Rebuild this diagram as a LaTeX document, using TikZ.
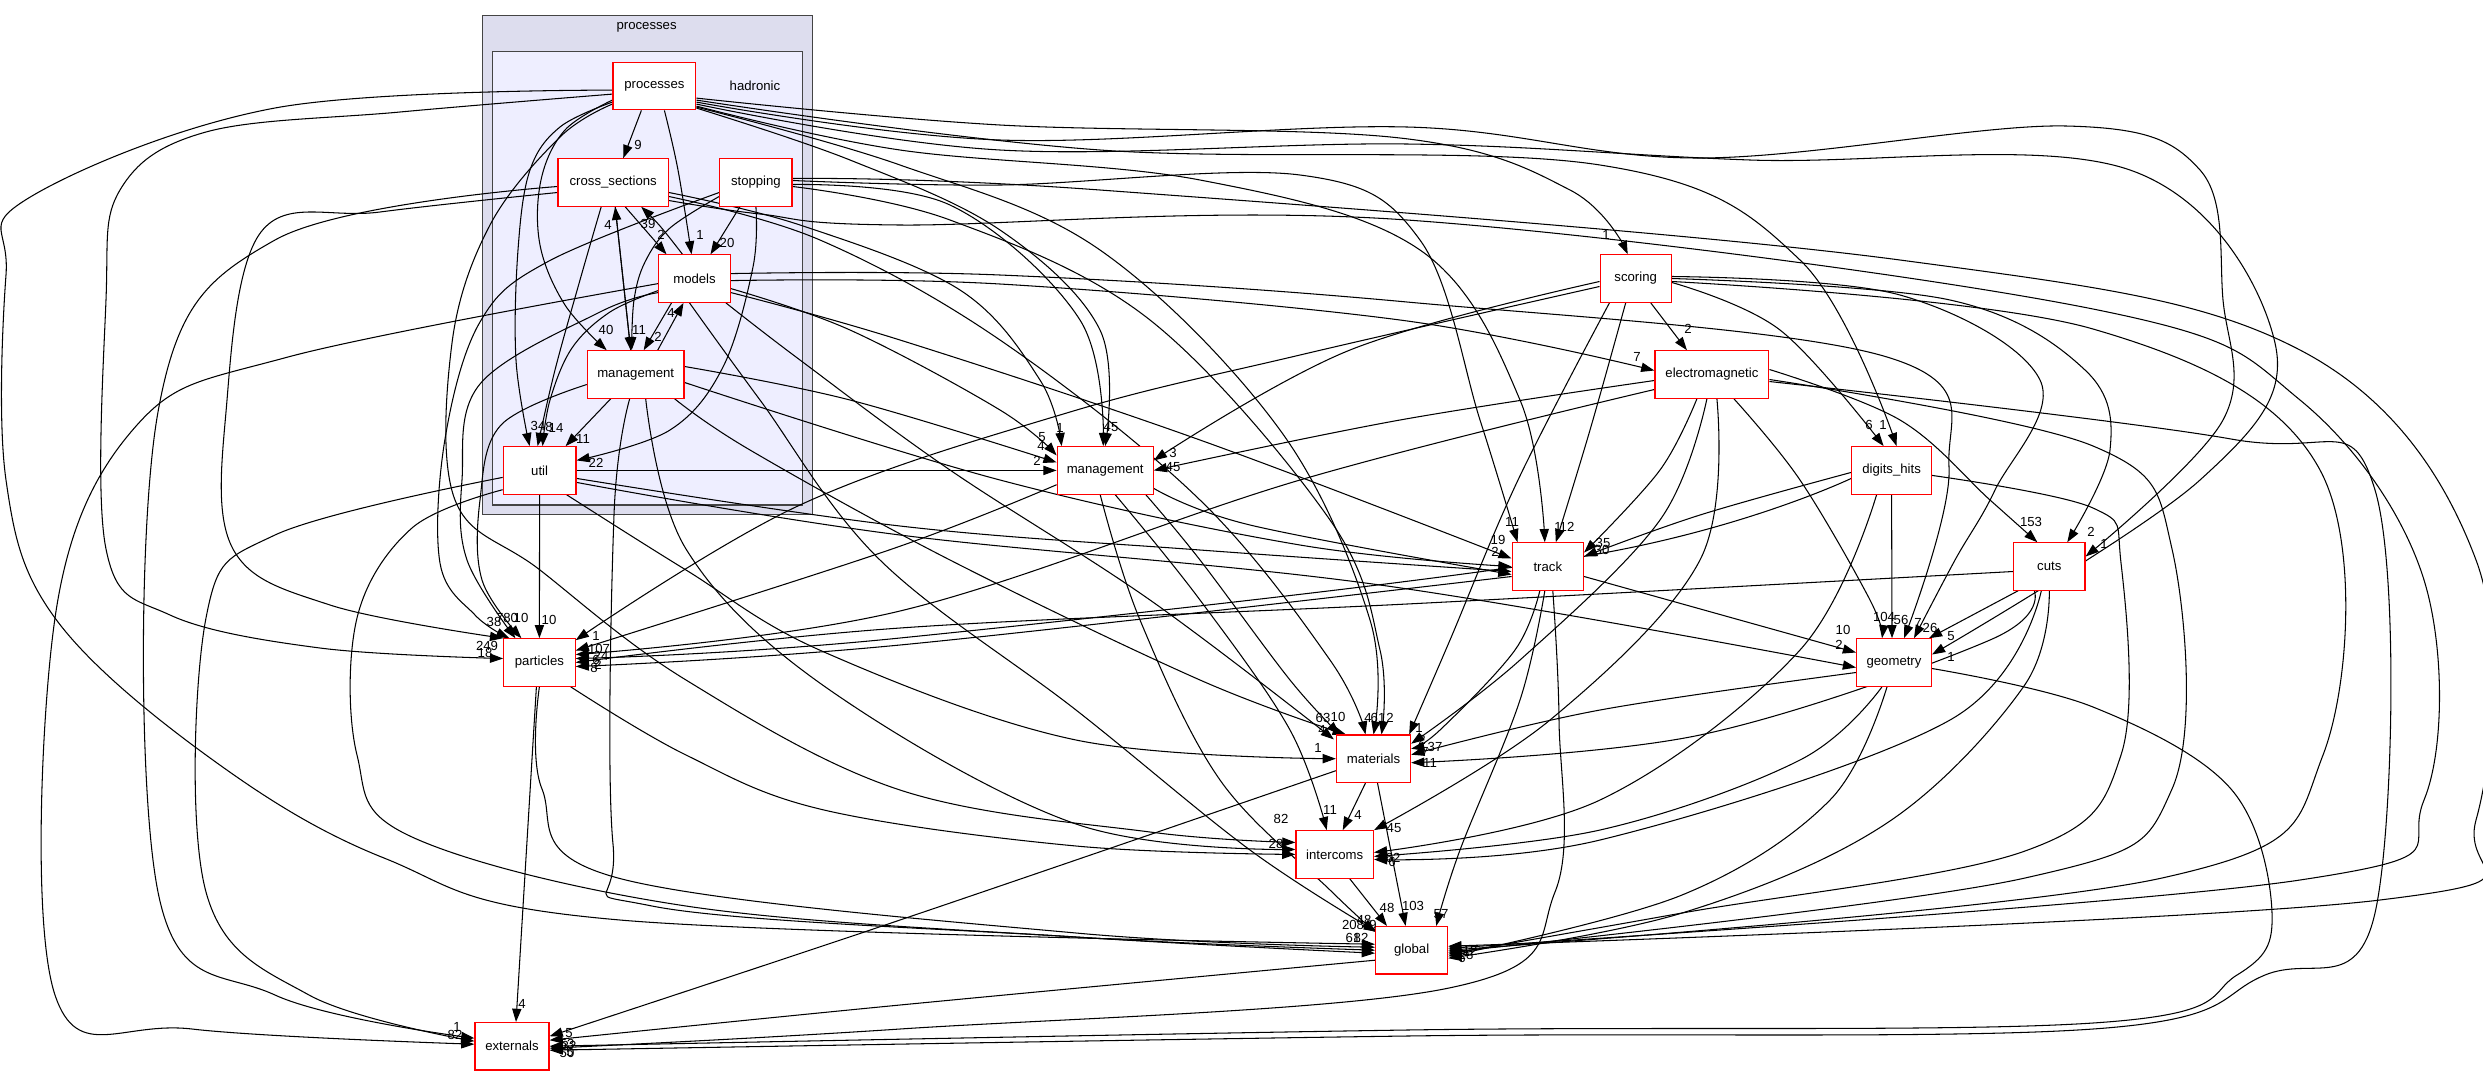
\documentclass[tikz,border=0pt]{standalone}
\usepackage{fontspec}
\setmainfont{Liberation Sans}
\usetikzlibrary{arrows.meta,calc}
\pgfdeclarelayer{bg}
\pgfdeclarelayer{edges}
\pgfsetlayers{bg,edges,main}
\definecolor{clouter}{HTML}{DDDDEE}
\definecolor{clinner}{HTML}{EEEEFF}
\definecolor{clborder}{HTML}{444444}
\newcounter{labc}
\newcommand\lab[3]{\stepcounter{labc}\node[lb] (L\arabic{labc}) at (#1,#2) {#3};}
\newcommand\edgeplot[1]{\draw[edge] plot[smooth,tension=0.6] coordinates {#1};}
\begin{document}
\begin{tikzpicture}[x=0.7593pt,y=-0.7593pt,
  box/.style={draw=red, fill=white, line width=0.9pt, minimum height=36pt, inner sep=0pt, font=\fontsize{10}{12}\selectfont},
  lb/.style={inner sep=0pt, font=\fontsize{10}{12}\selectfont},
  edge/.style={draw=black, line width=0.8pt, -{Triangle[length=10pt,width=7pt]}}]
\useasboundingbox (0,0) rectangle (2483,1076);
\begin{pgfonlayer}{bg}
\fill[white] (0,0) rectangle (2483,1076);
\draw[clborder, fill=clouter, line width=1pt] (482.5,15.8) rectangle (812.5,514.5);
\draw[clborder, fill=clinner, line width=1pt] (492.7,51.5) rectangle (802.8,505);
\end{pgfonlayer}
\node[lb] (clp) at (646.6,27.5) {processes};
\node[lb] (clh) at (755,85.5) {hadronic};
% nodes
\node[box, minimum width=63pt] (P) at (654.4,86.1) {processes};
\node[box, minimum width=83.7pt] (CS) at (613.2,182.5) {cross\_sections};
\node[box, minimum width=54.9pt] (ST) at (755.9,182.5) {stopping};
\node[box, minimum width=54.4pt] (MO) at (694.5,278.6) {models};
\node[box, minimum width=73.4pt] (HM) at (635.7,374.5) {management};
\node[box, minimum width=55.2pt] (UT) at (539.6,470.4) {util};
\node[box, minimum width=54.2pt] (PA) at (539.4,662.5) {particles};
\node[box, minimum width=56.2pt] (EX) at (512,1046.2) {externals};
\node[box, minimum width=72.9pt] (OM) at (1105.2,470.4) {management};
\node[box, minimum width=54.1pt] (SC) at (1635.7,278.5) {scoring};
\node[box, minimum width=86.5pt] (EM) at (1711.9,374.5) {electromagnetic};
\node[box, minimum width=60.4pt] (DH) at (1891.6,470.4) {digits\_hits};
\node[box, minimum width=54.2pt] (TR) at (1547.8,566.5) {track};
\node[box, minimum width=56.8pt] (GE) at (1894,662.5) {geometry};
\node[box, minimum width=54.2pt] (CU) at (2049.3,566.5) {cuts};
\node[box, minimum width=56.3pt] (MA) at (1373.5,758.7) {materials};
\node[box, minimum width=58.8pt] (IC) at (1334.7,854.4) {intercoms};
\node[box, minimum width=54.7pt] (GL) at (1411.6,950.2) {global};
\begin{pgfonlayer}{edges}
% internal hadronic
\draw[edge] ($(P.south)+(-13,0)$) -- ($(CS.north)+(10,0)$);
\edgeplot{($(P.south)+(10,0)$) (678,170) ($(MO.north)+(-3,0)$)}
\edgeplot{($(P.west)+(0,14)$) (565,130) (541,180) (540,245) (565,305) ($(HM.north)+(-29,0)$)}
\edgeplot{($(P.west)+(0,16)$) (560,127) (530,170) (518,250) (516,360) ($(UT.north)+(-10,0)$)}
\edgeplot{($(CS.south)+(-12,0)$) (580,280) (555,370) ($(UT.north)+(-2,0)$)}
\edgeplot{($(MO.west)+(0,12)$) (610,312) (572,348) (550,400) ($(UT.north)+(3,0)$)}
\draw[edge] ($(HM.south)+(-25,0)$) -- ($(UT.north)+(26,0)$);
\edgeplot{(ST.south) (753,267) (723,367) (670,430) ($(UT.east)+(0,-10)$)}
\draw[edge] ($(CS.south)+(12,0)$) -- ($(MO.north)+(-28,0)$);
\edgeplot{($(MO.north)+(-12,0)$) (660,226) ($(CS.south)+(28,0)$)}
\draw[edge] ($(CS.south)+(2,0)$) -- ($(HM.north)+(-5,0)$);
\draw[edge] ($(HM.north)+(-5,0)$) -- ($(CS.south)+(2,0)$);
\draw[edge] ($(ST.south)+(-16,0)$) -- ($(MO.north)+(16,0)$);
\edgeplot{($(ST.west)+(0,14)$) (670,228) (645,262) (634,300) ($(HM.north)+(-4,0)$)}
\draw[edge] ($(MO.south)+(-23,0)$) -- ($(HM.north)+(8,0)$);
\draw[edge] ($(HM.north)+(22,0)$) -- ($(MO.south)+(-11,0)$);
% into particles
\edgeplot{($(P.west)+(0,8)$) (400,112) (206,132) (120,190) (106,300) (106,549) (170,615) (320,648) ($(PA.west)+(0,-4)$)}
\edgeplot{($(CS.west)+(0,10)$) (380,212) (261,232) (226,412) (233,549) (330,605) (PA.north west)}
\edgeplot{($(ST.west)+(0,10)$) (549,261) (480,322) (445,439) (440,563) (475,615) ($(PA.north)+(-30,0)$)}
\edgeplot{($(MO.west)+(0,14)$) (600,312) (480,384) (462,480) (467,560) ($(PA.north)+(-24,0)$)}
\edgeplot{($(HM.west)+(0,10)$) (501,425) (480,500) (482,580) ($(PA.north)+(-18,0)$)}
\draw[edge] (UT.south) -- (PA.north);
\edgeplot{($(SC.west)+(0,8)$) (1300,355) (1070,412) (800,505) ($(PA.north east)+(0,2)$)}
\edgeplot{($(OM.south west)+(0,-10)$) (892,549) ($(PA.east)+(0,-12)$)}
\edgeplot{($(EM.west)+(0,15)$) (1300,480) (900,611) ($(PA.east)+(0,-8)$)}
\edgeplot{($(DH.west)+(0,8)$) (1586,556) (900,638) ($(PA.east)+(0,-4)$)}
\edgeplot{($(CU.west)+(0,5)$) (1407,604) (900,628) (PA.east)}
\edgeplot{($(TR.west)+(0,10)$) (900,645) ($(PA.east)+(0,4)$)}
% particles out
\draw[edge] ($(PA.south)+(-3,0)$) -- ($(EX.north)+(4,0)$);
\edgeplot{(PA.south) (542,789) (618,878) (1076,933) ($(GL.west)+(0,-3)$)}
\edgeplot{($(PA.south east)+(-5,0)$) (686,755) (824,810) (1076,846) (IC.west)}
% util out
\edgeplot{($(UT.west)+(0,7)$) (275,535) (206,618) (206,892) (309,995) ($(EX.west)+(0,-5)$)}
\edgeplot{($(UT.south west)+(0,-5)$) (412,528) (357,618) (357,755) (412,837) (686,906) (1076,937) (GL.west)}
\draw[edge] (UT.east) -- (OM.west);
\edgeplot{($(UT.east)+(0,8)$) (900,526) (1200,550) ($(TR.west)+(0,5)$)}
\edgeplot{($(UT.east)+(0,12)$) (900,535) (1380,585) ($(GE.west)+(0,5)$)}
\edgeplot{($(UT.south east)+(-10,0)$) (686,570) (824,652) (1076,740) (MA.west)}
% cross_sections out
\edgeplot{($(CS.west)+(0,4)$) (275,240) (158,412) (158,892) (275,995) ($(EX.west)+(0,-8)$)}
\edgeplot{($(CS.east)+(0,10)$) (800,225) (960,290) (1040,380) ($(OM.north west)+(5,0)$)}
\edgeplot{($(CS.east)+(0,14)$) (820,240) (1000,340) (1200,500) (1330,660) ($(MA.north)+(-8,0)$)}
\edgeplot{($(CS.east)+(0,18)$) (760,214) (900,225) (1407,220) (2093,309) (2300,400) (2424,580) (2424,800) (2300,880) ($(GL.east)+(0,-2)$)}
% stopping out
\edgeplot{($(ST.east)+(0,2)$) (950,205) (1080,320) ($(OM.north)+(-2,0)$)}
\edgeplot{($(ST.east)+(0,4)$) (950,220) (1150,320) (1330,520) (1380,650) ($(MA.north)+(8,0)$)}
\edgeplot{($(ST.east)+(0,-2)$) (1000,185) (1300,175) (1420,240) (1480,420) ($(TR.north west)+(6,0)$)}
\edgeplot{($(ST.east)+(0,-4)$) (1100,190) (1900,260) (2300,350) (2476,560) (2476,820) (2380,900) ($(GL.east)+(0,-4)$)}
% models out
\edgeplot{($(MO.east)+(0,2)$) (1000,284) (1400,320) ($(EM.west)+(0,-4)$)}
\edgeplot{($(MO.east)+(0,-5)$) (1000,275) (1407,302) (1887,357) (1949,467) ($(GE.north)+(10,0)$)}
\edgeplot{($(MO.east)+(0,10)$) (850,330) (1000,410) ($(OM.west)+(0,-15)$)}
\edgeplot{($(MO.east)+(0,14)$) (900,340) (1200,440) ($(TR.west)+(0,-8)$)}
\edgeplot{($(MO.south east)+(-5,0)$) (800,360) (950,470) (1150,600) ($(MA.north west)+(-2,5)$)}
\edgeplot{($(MO.south)+(-5,0)$) (760,400) (880,560) (1076,710) (1250,850) ($(GL.north west)+(2,6)$)}
\edgeplot{($(MO.west)+(0,5)$) (288,357) (137,425) (55,618) (55,995) (192,1029) ($(EX.west)+(0,-2)$)}
% management (hadronic) out
\edgeplot{($(HM.east)+(0,-8)$) (850,400) ($(OM.west)+(0,-8)$)}
\edgeplot{($(HM.east)+(0,8)$) (1000,480) (1300,545) (TR.west)}
\edgeplot{($(HM.south east)+(-10,0)$) (750,450) (950,560) (1200,680) ($(MA.north west)+(10,0)$)}
\edgeplot{($(HM.south)+(-6,0)$) (614,515) (613,844) (652,906) (1076,937) ($(GL.west)+(0,3)$)}
\edgeplot{($(HM.south)+(10,0)$) (686,549) (824,686) (1076,824) ($(IC.west)+(0,-5)$)}
% processes out (right and left)
\edgeplot{($(P.east)+(0,12)$) (1000,125) (1400,138) (1570,190) ($(SC.north)+(-8,0)$)}
\edgeplot{($(P.east)+(0,14)$) (1100,150) (1600,165) (1800,260) ($(DH.north)+(5,0)$)}
\edgeplot{($(P.east)+(0,16)$) (1000,140) (1407,127) (1700,158) (2066,126) (2200,170) (2223,300) (2223,420) ($(CU.east)+(0,-10)$)}
\edgeplot{($(P.east)+(0,18)$) (1000,150) (1407,144) (1750,160) (2130,170) (2275,343) (2200,480) ($(GE.east)+(0,-8)$)}
\edgeplot{($(P.east)+(0,20)$) (900,150) (1200,180) (1420,250) (1520,400) ($(TR.north)+(-3,0)$)}
\edgeplot{($(P.east)+(0,22)$) (850,160) (1000,230) (1100,330) (OM.north)}
\edgeplot{($(P.east)+(0,21)$) (900,165) (1100,250) (1280,430) (1370,620) (MA.north)}
\edgeplot{($(P.west)+(0,4)$) (275,108) (27,199) (6,275) (6,480) (55,618) (206,755) (384,858) (620,920) ($(GL.west)+(0,-6)$)}
\edgeplot{($(P.west)+(0,18)$) (560,137) (490,225) (452,343) (455,500) (540,570) (686,680) (900,790) (1150,832) ($(IC.west)+(0,-12)$)}
% scoring out
\draw[edge] ($(SC.south)+(15,0)$) -- ($(EM.north)+(-25,0)$);
\edgeplot{($(SC.east)+(0,4)$) (1780,330) ($(DH.north)+(-8,0)$)}
\edgeplot{(SC.east) (1950,300) (2085,370) (2110,450) ($(CU.north)+(18,0)$)}
\edgeplot{($(SC.east)+(0,-2)$) (1900,295) (2040,380) (1995,490) (1955,560) ($(GE.north)+(20,0)$)}
\edgeplot{($(SC.east)+(0,3)$) (2093,329) (2320,470) (2323,755) (2162,878) (GL.east)}
\edgeplot{($(SC.south)+(-10,0)$) (1590,430) ($(TR.north)+(8,0)$)}
\edgeplot{($(SC.south west)+(10,0)$) (1518,480) (1450,640) ($(MA.north east)+(-2,0)$)}
\edgeplot{($(SC.west)+(0,3)$) (1350,350) ($(OM.east)+(0,-10)$)}
% electromagnetic out
\edgeplot{($(EM.west)+(0,6)$) (1400,420) (OM.east)}
\edgeplot{($(EM.south)+(-15,0)$) (1660,470) ($(TR.east)+(0,-14)$)}
\edgeplot{($(EM.south)+(-5,0)$) (1660,520) (1520,660) ($(MA.east)+(0,-15)$)}
\edgeplot{($(EM.south)+(5,0)$) (1700,560) (1550,720) (IC.north east)}
\edgeplot{($(EM.south)+(22,0)$) (1800,480) (1870,600) ($(GE.north)+(-12,0)$)}
\edgeplot{($(EM.east)+(0,-5)$) (1900,420) (1990,500) ($(CU.north)+(-12,0)$)}
\edgeplot{($(EM.east)+(0,5)$) (2093,446) (2172,549) (2172,789) (2025,878) ($(GL.east)+(0,2)$)}
\edgeplot{($(EM.east)+(0,7)$) (2231,439) (2375,490) (2375,913) (2265,975) (2093,1029) (1407,1036) ($(EX.east)+(0,4)$)}
% digits_hits out
\edgeplot{($(DH.west)+(0,2)$) (1700,515) ($(TR.east)+(0,-10)$)}
\draw[edge] (DH.south) -- ($(GE.north)+(-2,0)$);
\edgeplot{($(DH.south)+(-15,0)$) (1800,650) (1600,800) ($(IC.east)+(0,-2)$)}
\edgeplot{($(DH.east)+(0,5)$) (2093,508) (2121,563) (2121,755) (2025,851) (1682,913) ($(GL.east)+(0,4)$)}
% track out
\draw[edge] ($(TR.east)+(0,10)$) -- ($(GE.west)+(0,-10)$);
\edgeplot{($(TR.south)+(-8,0)$) (1515,650) (1440,730) ($(MA.east)+(0,-10)$)}
\edgeplot{($(TR.south)+(-3,0)$) (1520,700) (1460,850) ($(GL.north east)+(-12,0)$)}
\edgeplot{($(TR.south)+(5,0)$) (1559,720) (1555,892) (1449,988) (900,1029) ($(EX.east)+(0,2)$)}
% geometry out
\edgeplot{($(GE.west)+(0,10)$) (1600,710) ($(MA.east)+(0,-4)$)}
\edgeplot{($(GE.south)+(-12,0)$) (1800,760) (1600,830) ($(IC.east)+(0,2)$)}
\edgeplot{($(GE.south)+(-7,0)$) (1830,800) (1682,895) ($(GL.east)+(0,6)$)}
\edgeplot{($(GE.east)+(0,6)$) (2093,707) (2231,789) (2272,913) (2237,975) (2093,1023) (1407,1030) (EX.east)}
% cuts out
\draw[edge] ($(CU.south west)+(5,0)$) -- ($(GE.north east)+(-3,0)$);
\edgeplot{($(CU.south)+(-15,0)$) (1990,640) (1700,735) ($(MA.east)+(0,4)$)}
\edgeplot{($(CU.south)+(-8,0)$) (1950,720) (1600,840) ($(IC.east)+(0,5)$)}
\edgeplot{(CU.south) (2024,686) (1887,823) (1682,913) ($(GL.east)+(0,8)$)}
% materials, intercoms, global, management out
\draw[edge] ($(MA.south)+(-8,0)$) -- ($(IC.north)+(8,0)$);
\draw[edge] ($(MA.south)+(4,0)$) -- ($(GL.north)+(-6,0)$);
\edgeplot{($(MA.west)+(0,12)$) (900,920) ($(EX.east)+(0,-10)$)}
\draw[edge] ($(IC.south)+(15,0)$) -- ($(GL.north west)+(12,0)$);
\edgeplot{($(OM.south)+(10,0)$) (1200,600) (1290,730) ($(IC.north)+(-8,0)$)}
\edgeplot{($(OM.south)+(-5,0)$) (1140,620) (1220,780) (1330,890) ($(GL.north west)+(0,6)$)}
\edgeplot{($(OM.south east)+(-8,0)$) (1200,560) (1290,680) ($(MA.north west)+(4,0)$)}
\edgeplot{($(OM.east)+(0,18)$) (1250,525) ($(TR.west)+(0,8)$)}
\edgeplot{($(GL.west)+(0,10)$) (900,1005) ($(EX.east)+(0,-6)$)}
\end{pgfonlayer}
% labels
\lab{638}{145}{9}\lab{700}{235}{1}\lab{606}{330}{40}
\lab{538}{426}{34}\lab{549}{427}{8}\lab{556}{428}{14}\lab{583}{439}{11}\lab{596}{463}{22}
\lab{661}{235}{2}\lab{648}{224}{39}\lab{639}{330}{11}\lab{608}{225}{4}\lab{727}{243}{20}
\lab{658}{337}{2}\lab{671}{313}{4}
\lab{487}{646}{249}\lab{485}{653}{18}\lab{494}{622}{38}\lab{507}{618}{780}\lab{521}{618}{10}
\lab{549}{620}{10}\lab{596}{636}{1}\lab{599}{649}{107}\lab{601}{656}{24}\lab{596}{660}{6}
\lab{598}{665}{2}\lab{594}{668}{8}
\lab{522}{1004}{4}\lab{457}{1027}{1}\lab{455}{1035}{82}\lab{569}{1033}{5}\lab{567}{1044}{53}
\lab{569}{1046}{32}\lab{567}{1053}{50}\lab{570}{1052}{5}
\lab{1060}{428}{1}\lab{1111}{427}{45}\lab{1042}{437}{5}\lab{1041}{446}{4}\lab{1037}{461}{2}
\lab{1173}{453}{3}\lab{1173}{467}{45}
\lab{1606}{235}{1}\lab{1688}{329}{2}\lab{1637}{357}{7}\lab{1869}{425}{6}\lab{1883}{425}{1}
\lab{1512}{522}{11}\lab{1558}{527}{1}\lab{1567}{527}{12}\lab{1498}{540}{19}\lab{1495}{552}{2}
\lab{1603}{543}{35}\lab{1602}{550}{30}
\lab{1843}{630}{10}\lab{1839}{645}{2}\lab{1884}{617}{104}\lab{1901}{620}{56}\lab{1918}{623}{7}
\lab{1930}{628}{26}\lab{1951}{636}{5}\lab{1951}{657}{1}
\lab{2031}{522}{153}\lab{2091}{532}{2}\lab{2104}{544}{1}
\lab{1323}{718}{63}\lab{1338}{717}{10}\lab{1322}{730}{4}\lab{1318}{748}{1}\lab{1368}{718}{4}
\lab{1378}{718}{61}\lab{1390}{718}{2}\lab{1419}{728}{1}\lab{1422}{740}{2}\lab{1435}{747}{37}
\lab{1425}{752}{7}\lab{1430}{763}{11}
\lab{1330}{810}{11}\lab{1358}{815}{4}\lab{1394}{828}{45}\lab{1281}{819}{82}\lab{1276}{844}{28}
\lab{1393}{858}{62}\lab{1392}{862}{6}
\lab{1387}{908}{48}\lab{1413}{906}{103}\lab{1441}{914}{57}\lab{1353}{925}{208}\lab{1364}{920}{48}
\lab{1373}{925}{9}\lab{1353}{938}{61}\lab{1361}{938}{82}
\lab{1458}{952}{1}\lab{1466}{955}{28}\lab{1462}{958}{6}\lab{1470}{951}{12}
\end{tikzpicture}
\end{document}
